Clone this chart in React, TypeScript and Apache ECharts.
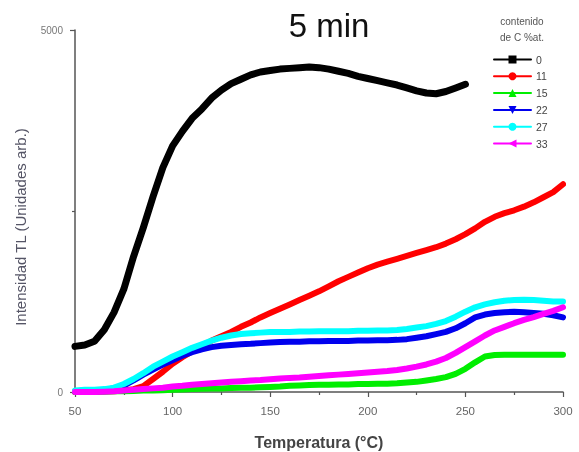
import React, { useEffect, useRef } from "react";
import * as echarts from "echarts";

const temps = [50,55,60,65,70,75,80,85,90,95,100,105,110,115,120,125,130,135,140,145,150,155,160,165,170,175,180,185,190,195,200,205,210,215,220,225,230,235,240,245,250,255,260,265,270,275,280,285,290,295,300];

const c0 = [630,650,700,860,1100,1420,1870,2270,2700,3100,3400,3600,3780,3910,4060,4170,4260,4320,4380,4420,4440,4460,4470,4480,4490,4480,4460,4430,4400,4360,4330,4300,4270,4240,4200,4160,4130,4120,4150,4200,4250];
const c11 = [0,0,0,10,10,20,40,80,180,280,390,480,560,640,710,770,830,900,960,1030,1090,1150,1210,1270,1330,1390,1460,1530,1590,1650,1710,1760,1800,1840,1880,1920,1960,2000,2050,2110,2180,2260,2350,2420,2470,2510,2560,2620,2690,2760,2870];
const c15 = [0,0,0,5,10,10,15,20,20,25,30,35,40,45,50,50,55,60,60,65,70,75,85,90,95,100,100,105,105,110,110,115,115,120,130,140,160,180,205,250,320,410,490,510,515,515,515,515,515,515,515];
const c22 = [10,20,20,30,50,90,160,240,310,380,440,500,550,590,620,640,650,660,665,675,685,690,695,695,700,700,705,705,705,710,710,715,715,720,730,750,770,800,830,880,950,1030,1070,1090,1100,1110,1100,1090,1080,1060,1030];
const c27 = [20,30,30,40,60,110,180,260,350,420,490,550,610,660,710,750,780,800,810,820,830,830,830,835,835,840,840,840,840,845,845,850,850,855,870,890,910,940,980,1040,1110,1170,1210,1240,1260,1270,1275,1270,1260,1250,1250];
const c33 = [0,0,0,5,10,20,30,40,50,60,75,85,100,110,120,130,140,150,160,165,175,185,195,200,210,220,230,240,250,260,270,280,290,305,325,350,380,420,470,540,620,700,780,850,900,950,995,1035,1080,1120,1170];

const names = ["0", "11", "15", "22", "27", "33"];
const colors = ["#000000", "#ff0000", "#00ee00", "#0000ee", "#00ffff", "#ff00ff"];
const symbols = [
  "rect",
  "circle",
  "triangle",
  "path://M0,0 L10,0 L5,10 Z",
  "circle",
  "path://M0,5 L10,0 L10,10 Z",
];
const values = [c0, c11, c15, c22, c27, c33];

export default function App() {
  const ref = useRef<HTMLDivElement>(null);
  useEffect(() => {
    const chart = echarts.init(ref.current!, null, { renderer: "svg" });
    const font = "'Liberation Sans', Arial, sans-serif";
    chart.setOption({
      animation: false,
      textStyle: { fontFamily: font },
      graphic: [
        { type: "text", x: 329, y: 25, style: { text: "5 min", fontSize: 33, fill: "#111", fontFamily: font, align: "center", verticalAlign: "middle" } },
        { type: "text", x: 522, y: 21, style: { text: "contenido", fontSize: 10, fill: "#555", fontFamily: font, align: "center", verticalAlign: "middle" } },
        { type: "text", x: 522, y: 37, style: { text: "de C %at.", fontSize: 10, fill: "#555", fontFamily: font, align: "center", verticalAlign: "middle" } },
        { type: "text", x: 20, y: 227, rotation: Math.PI / 2, style: { text: "Intensidad TL (Unidades arb.)", fontSize: 15, fill: "#556", fontFamily: font, align: "center", verticalAlign: "middle" } },
      ],
      legend: {
        orient: "vertical",
        left: 488,
        top: 49,
        itemWidth: 37,
        itemHeight: 10,
        itemGap: 5.8,
        textStyle: { fontSize: 10.5, color: "#444", fontFamily: font },
        data: names,
      },
      grid: { left: 75, right: 16, top: 30, bottom: 60, containLabel: false, outerBoundsMode: "none" },
      xAxis: {
        type: "value",
        min: 50,
        max: 300,
        interval: 50,
        name: "Temperatura (°C)",
        nameLocation: "middle",
        nameGap: 42,
        nameTextStyle: { fontSize: 16, fontWeight: "bold", color: "#444", fontFamily: font, verticalAlign: "top" },
        axisLine: { lineStyle: { color: "#555", width: 1.5 } },
        axisTick: { show: true, length: 5, lineStyle: { color: "#555", width: 1.2 } },
        minorTick: { show: true, splitNumber: 2, length: 3, lineStyle: { color: "#555", width: 1.2 } },
        axisLabel: { fontSize: 11.5, color: "#666", margin: 13 },
        splitLine: { show: false },
      },
      yAxis: {
        type: "value",
        min: 0,
        max: 5000,
        interval: 5000,
        axisLine: { show: true, lineStyle: { color: "#555", width: 1.5 } },
        axisTick: { show: true, length: 5, lineStyle: { color: "#555", width: 1.2 } },
        minorTick: { show: true, splitNumber: 2, length: 3, lineStyle: { color: "#555", width: 1.2 } },
        axisLabel: { fontSize: 10, color: "#777", margin: 12, formatter: (v: number) => String(v) },
        splitLine: { show: false },
      },
      series: names.map((n, i) => ({
        name: n,
        type: "line",
        data: values[i].map((v, j) => [temps[j], v]),
        symbol: symbols[i],
        symbolSize: 9,
        showSymbol: false,
        itemStyle: { color: colors[i] },
        lineStyle: { color: colors[i], width: i === 0 ? 7 : 6, cap: "round", join: "round" },
      })),
    });
    return () => chart.dispose();
  }, []);
  return <div ref={ref} style={{ position: "fixed", left: 0, top: 0, width: 579, height: 452 }} />;
}
